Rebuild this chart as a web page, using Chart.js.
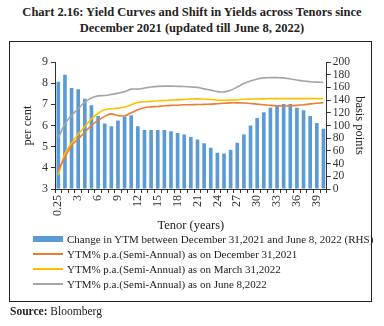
<!DOCTYPE html>
<html>
<head>
<meta charset="utf-8">
<script src="https://cdn.jsdelivr.net/npm/chart.js@4.4.0/dist/chart.umd.min.js"></script>
<style>
    body {
        margin: 0;
        width: 384px;
        height: 326px;
        background: #fff;
        font-family: "Liberation Serif", "DejaVu Serif", serif;
        position: relative;
        overflow: hidden;
    }
    .title {
        position: absolute;
        left: 0;
        top: 4px;
        width: 384px;
        text-align: center;
        font-weight: bold;
        font-size: 12.5px;
        line-height: 16px;
        color: #222;
    }
    .frame {
        position: absolute;
        left: 9px;
        top: 41px;
        width: 361px;
        height: 259px;
        border: 1px solid #222;
    }
    .chart-wrap {
        position: absolute;
        left: 0;
        top: 0;
        width: 361px;
        height: 191px;
    }
    #chartLegend {
        position: absolute;
        left: 23px;
        top: 189px;
    }
    .legend-item {
        display: flex;
        align-items: center;
        height: 15px;
        font-size: 11px;
        color: #222;
        white-space: nowrap;
    }
    .legend-mark {
        width: 30px;
        margin-right: 4px;
        flex: none;
    }
    .source {
        position: absolute;
        left: 10px;
        top: 305px;
        font-size: 11.5px;
        color: #222;
    }
</style>
</head>
<body>
<div class="title">Chart 2.16: Yield Curves and Shift in Yields across Tenors since<br>December 2021 (updated till June 8, 2022)</div>
<div class="frame">
    <div class="chart-wrap"><canvas id="yieldChart"></canvas></div>
    <div id="chartLegend"></div>
</div>
<div class="source"><b>Source:</b> Bloomberg</div>

<script>
// Tenors (years)
const tenors = ['0.25', '1', '2', '3', '4', '5', '6', '7', '8', '9', '10',
    '11', '12', '13', '14', '15', '16', '17', '18', '19', '20',
    '21', '22', '23', '24', '25', '26', '27', '28', '29', '30',
    '31', '32', '33', '34', '35', '36', '37', '38', '39', '40'];

// Change in YTM, basis points (RHS)
const changeBps = [169, 180, 159, 157, 142, 132, 115, 103, 99, 108, 114,
    116, 99, 93, 93, 93, 93, 91, 88, 86, 82,
    78, 72, 65, 57, 56, 62, 73, 86, 100, 112,
    121, 128, 131, 134, 134, 128, 124, 115, 104, 95];

// YTM% as on December 31, 2021
const ytmDec21 = [3.9, 4.5, 5.05, 5.37, 5.68, 6.0, 6.24, 6.43, 6.55, 6.47, 6.46,
    6.6, 6.74, 6.84, 6.88, 6.9, 6.93, 6.95, 6.96, 6.98, 6.98,
    6.99, 7.0, 7.01, 7.03, 7.05, 7.07, 7.07, 7.06, 7.04, 7.01,
    6.98, 6.95, 6.93, 6.92, 6.93, 6.95, 6.98, 7.02, 7.05, 7.08];

// YTM% as on March 31, 2022
const ytmMar22 = [3.66, 4.66, 5.16, 5.6, 5.95, 6.31, 6.58, 6.74, 6.79, 6.82, 6.87,
    6.98, 7.09, 7.12, 7.14, 7.17, 7.18, 7.2, 7.21, 7.23, 7.25,
    7.26, 7.25, 7.23, 7.2, 7.19, 7.2, 7.22, 7.24, 7.25, 7.26,
    7.26, 7.27, 7.27, 7.27, 7.27, 7.27, 7.27, 7.27, 7.27, 7.27];

// YTM% as on June 8, 2022
const ytmJun22 = [5.4, 6.08, 6.47, 6.79, 7.1, 7.3, 7.4, 7.42, 7.47, 7.53, 7.6,
    7.72, 7.72, 7.77, 7.82, 7.85, 7.86, 7.86, 7.85, 7.84, 7.82,
    7.8, 7.73, 7.67, 7.6, 7.59, 7.67, 7.82, 7.98, 8.1, 8.2,
    8.25, 8.26, 8.26, 8.25, 8.2, 8.15, 8.1, 8.07, 8.05, 8.03];

const seriesLabels = [
    'Change in YTM between December 31,2021 and June 8, 2022 (RHS)',
    'YTM% p.a.(Semi-Annual) as on December 31,2021',
    'YTM% p.a.(Semi-Annual) as on March 31,2022',
    'YTM% p.a.(Semi-Annual) as on June 8,2022'
];
const seriesColors = ['#5b9bd5', '#ed7d31', '#ffc000', '#a5a5a5'];

const fontFamily = '"Liberation Serif", "DejaVu Serif", serif';
const tickColor = '#333';

function createCustomLegend() {
    const legendContainer = document.getElementById('chartLegend');
    seriesLabels.forEach((label, index) => {
        const item = document.createElement('div');
        item.className = 'legend-item';
        const mark = document.createElement('div');
        mark.className = 'legend-mark';
        mark.style.height = index === 0 ? '6px' : '2px';
        mark.style.backgroundColor = seriesColors[index];
        const text = document.createElement('span');
        text.textContent = label;
        item.appendChild(mark);
        item.appendChild(text);
        legendContainer.appendChild(item);
    });
}

const lineSet = (label, data, color) => ({
    type: 'line',
    label: label,
    data: data,
    yAxisID: 'y',
    borderColor: color,
    backgroundColor: color,
    borderWidth: 1.6,
    pointRadius: 0,
    tension: 0.4,
    order: 1
});

const ctx = document.getElementById('yieldChart').getContext('2d');
new Chart(ctx, {
    type: 'bar',
    data: {
        labels: tenors,
        datasets: [
            {
                label: seriesLabels[0],
                data: changeBps,
                yAxisID: 'y1',
                backgroundColor: seriesColors[0],
                barPercentage: 0.55,
                categoryPercentage: 1.0,
                order: 5
            },
            lineSet(seriesLabels[1], ytmDec21, seriesColors[1]),
            lineSet(seriesLabels[2], ytmMar22, seriesColors[2]),
            lineSet(seriesLabels[3], ytmJun22, seriesColors[3])
        ]
    },
    options: {
        responsive: true,
        maintainAspectRatio: false,
        animation: false,
        layout: { padding: { top: 20, left: 10, right: 0, bottom: 0 } },
        plugins: {
            legend: { display: false },
            tooltip: { enabled: false }
        },
        scales: {
            x: {
                grid: { drawOnChartArea: false, color: '#333', tickLength: 4 },
                border: { color: '#333' },
                ticks: {
                    autoSkip: false,
                    maxRotation: 90,
                    minRotation: 90,
                    color: tickColor,
                    font: { family: fontFamily, size: 12 },
                    padding: 2,
                    callback: function(value, index) {
                        return index % 3 === 0 ? this.getLabelForValue(value) : '';
                    }
                },
                title: {
                    display: true,
                    text: 'Tenor (years)',
                    color: '#222',
                    font: { family: fontFamily, size: 12.5 },
                    padding: { top: 0, bottom: 0 }
                }
            },
            y: {
                position: 'left',
                min: 3,
                max: 9,
                grid: { drawOnChartArea: false, color: '#333', tickLength: 4 },
                border: { color: '#333' },
                ticks: {
                    stepSize: 1,
                    color: tickColor,
                    font: { family: fontFamily, size: 12 },
                    padding: 3
                },
                title: {
                    display: true,
                    text: 'per cent',
                    color: '#222',
                    font: { family: fontFamily, size: 12.5 },
                    padding: { top: 0, bottom: 4 }
                }
            },
            y1: {
                position: 'right',
                min: 0,
                max: 200,
                grid: { drawOnChartArea: false, color: '#333', tickLength: 4 },
                border: { color: '#333' },
                ticks: {
                    stepSize: 20,
                    autoSkip: false,
                    color: tickColor,
                    font: { family: fontFamily, size: 11.5 },
                    padding: 2
                },
                title: {
                    display: true,
                    text: 'basis points',
                    color: '#222',
                    font: { family: fontFamily, size: 12.5 },
                    padding: { top: 4, bottom: 0 }
                }
            }
        }
    }
});

createCustomLegend();
</script>
</body>
</html>
